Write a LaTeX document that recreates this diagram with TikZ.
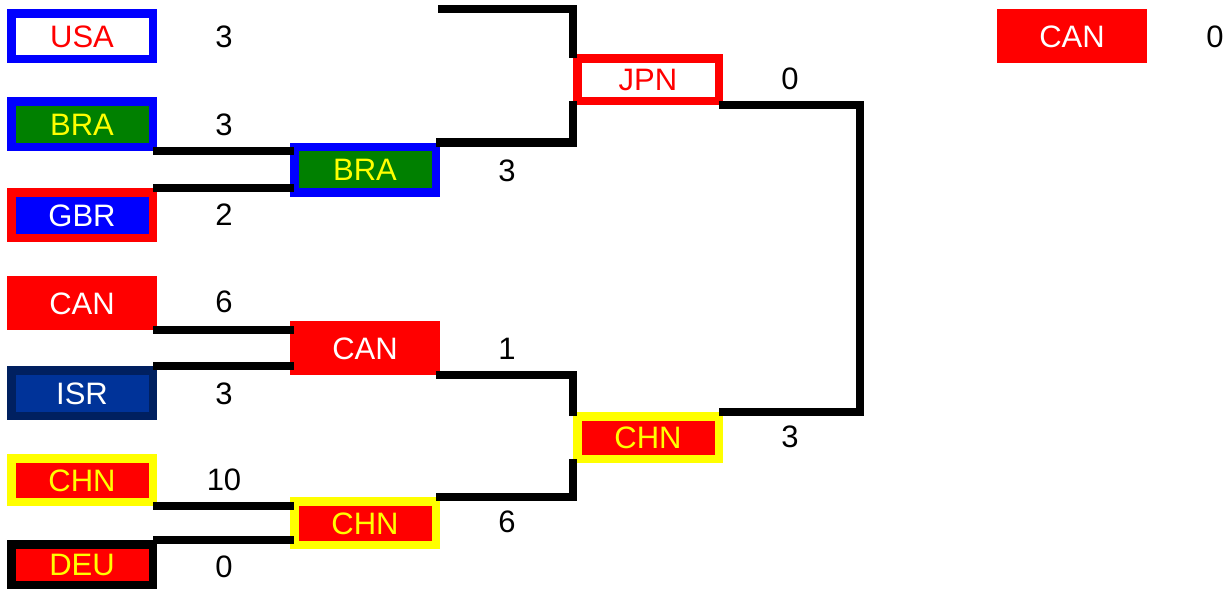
\documentclass[tikz,border=0pt]{standalone}
\usepackage{fontspec}
\setmainfont{Liberation Sans}
\usetikzlibrary{calc}
\definecolor{flagred}{RGB}{255,0,0}
\definecolor{flagblue}{RGB}{0,0,255}
\definecolor{flaggreen}{RGB}{0,128,0}
\definecolor{flagyellow}{RGB}{255,255,0}
\definecolor{isrfill}{RGB}{0,51,153}
\definecolor{isrdraw}{RGB}{0,32,96}
\tikzset{
  team/.style={draw, line width=8.5pt, minimum width=141.5pt, minimum height=45.5pt, inner sep=0pt,
    text height=22.2pt, text depth=0pt, font=\fontsize{31}{31}\selectfont},
  score/.style={inner sep=0pt, text height=22.2pt, text depth=0pt, font=\fontsize{31}{31}\selectfont},
  conn/.style={draw=black, line width=8.5pt, miter limit=10}
}
\begin{document}
\begin{tikzpicture}[x=1pt,y=-1pt]
\fill[white] (0,0) rectangle (1227,589);
\useasboundingbox (0,0) rectangle (1227,589);
% round 1
\node[team, draw=flagblue, fill=white, text=flagred] (usa) at (82,36) {USA};
\node[team, draw=flagblue, fill=flaggreen, text=flagyellow] (bra1) at (82,124) {BRA};
\node[team, draw=flagred, fill=flagblue, text=white] (gbr) at (82,215) {GBR};
\node[team, draw=flagred, fill=flagred, text=white] (can1) at (82,303) {CAN};
\node[team, draw=isrdraw, fill=isrfill, text=white] (isr) at (82,393) {ISR};
\node[team, minimum height=43.5pt, draw=flagyellow, fill=flagred, text=flagyellow] (chn1) at (82,480) {CHN};
\node[team, minimum height=40.5pt, draw=black, fill=flagred, text=flagyellow] (deu) at (82,564.5) {DEU};
% round 2
\node[team, draw=flagblue, fill=flaggreen, text=flagyellow] (bra2) at (365,169.5) {BRA};
\node[team, draw=flagred, fill=flagred, text=white] (can2) at (365,348) {CAN};
\node[team, minimum height=43.5pt, draw=flagyellow, fill=flagred, text=flagyellow] (chn2) at (365,523) {CHN};
% round 3
\node[team, minimum height=42.5pt, draw=flagred, fill=white, text=flagred] (jpn) at (648,79.5) {JPN};
\node[team, minimum height=42.5pt, draw=flagyellow, fill=flagred, text=flagyellow] (chn3) at (648,437.5) {CHN};
% winner
\node[team, draw=flagred, fill=flagred, text=white] (canw) at (1072,36) {CAN};
% scores
\node[score] (s1) at (224,36) {3};
\node[score] (s2) at (224,124) {3};
\node[score] (s3) at (224,214) {2};
\node[score] (s4) at (224,301) {6};
\node[score] (s5) at (224,393) {3};
\node[score] (s6) at (224,479) {10};
\node[score] (s7) at (224,566) {0};
\node[score] (s8) at (507,170) {3};
\node[score] (s9) at (507,348) {1};
\node[score] (s10) at (507,521) {6};
\node[score] (s11) at (790,78) {0};
\node[score] (s12) at (790,436) {3};
\node[score] (s13) at (1215,36) {0};
% connectors round 1 -> round 2
\draw[conn] ([xshift=-4pt]bra1.south east) -- ([xshift=4pt]bra1.south east -| bra2.west);
\draw[conn] ([xshift=-4pt]gbr.north east) -- ([xshift=4pt]gbr.north east -| bra2.west);
\draw[conn] ([xshift=-4pt]can1.south east) -- ([xshift=4pt]can1.south east -| can2.west);
\draw[conn] ([xshift=-4pt]isr.north east) -- ([xshift=4pt]isr.north east -| can2.west);
\draw[conn] ([xshift=-4pt]chn1.south east) -- ([xshift=4pt]chn1.south east -| chn2.west);
\draw[conn] ([xshift=-4pt]deu.north east) -- ([xshift=4pt]deu.north east -| chn2.west);
% connectors round 2 -> round 3
\draw[conn] ([xshift=-2pt]bra2.east |- usa.north) -| ([yshift=-4pt]jpn.north west);
\draw[conn] ([xshift=-4pt]bra2.north east) -| ([yshift=4pt]jpn.south west);
\draw[conn] ([xshift=-4pt]can2.south east) -| ([yshift=-4pt]chn3.north west);
\draw[conn] ([xshift=-4pt]chn2.north east) -| ([yshift=4pt]chn3.south west);
% final
\coordinate (fr) at (860,0);
\draw[conn] ([xshift=-4pt]jpn.south east) -| (fr |- chn3.north) -- ([xshift=-4pt]chn3.north east);
\end{tikzpicture}
\end{document}
